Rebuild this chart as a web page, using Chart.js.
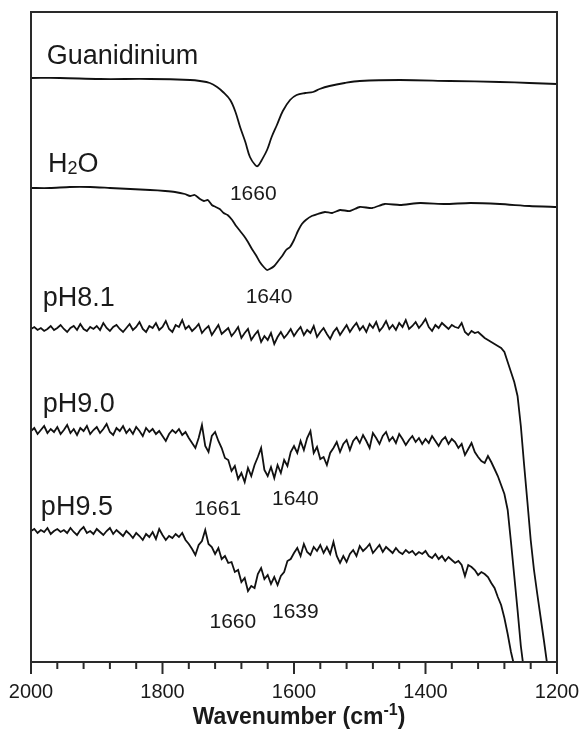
<!DOCTYPE html>
<html>
<head>
<meta charset="utf-8">
<script src="https://cdn.jsdelivr.net/npm/chart.js@4"></script>
<style>
  html, body { margin: 0; padding: 0; background: #fff; }
  #wrap { width: 581px; height: 733px; position: relative; }
</style>
</head>
<body>
<div id="wrap"><canvas id="irChart"></canvas></div>
<script>
// IR difference spectra, offset vertically (arbitrary units)

const tickLabels = [2000, 1800, 1600, 1400, 1200];

// Guanidinium reference spectrum
const guanWn  = [2000, 1956, 1895, 1819, 1758, 1743, 1728, 1717, 1708, 1697, 1689, 1682, 1674, 1667, 1659, 1655, 1649, 1641, 1634, 1626, 1617, 1606, 1596, 1583, 1571, 1561, 1546, 1523, 1500, 1439, 1363, 1287, 1242, 1200];
const guanAbs = [584, 584, 583, 583, 582, 581, 579, 575, 570, 562, 550, 535, 520, 505, 497, 496, 502, 512, 525, 537, 551, 562, 567, 569, 570, 573, 576, 579, 581, 582, 581, 580, 579, 578];

// H2O bending band
const waterWn  = [2000, 1971, 1941, 1910, 1880, 1849, 1819, 1796, 1781, 1766, 1758, 1751, 1743, 1737, 1731, 1725, 1719, 1713, 1707, 1701, 1694, 1688, 1682, 1676, 1670, 1664, 1658, 1652, 1646, 1641, 1637, 1630, 1624, 1618, 1612, 1606, 1600, 1594, 1588, 1582, 1573, 1564, 1553, 1542, 1530, 1515, 1500, 1481, 1462, 1439, 1408, 1370, 1332, 1287, 1242, 1200];
const waterAbs = [474, 474, 475, 475, 474, 473, 472, 471, 470, 468, 466, 467, 463, 461, 462, 457, 455, 453, 449, 447, 442, 436, 431, 426, 420, 413, 407, 400, 395, 392, 393, 396, 401, 406, 412, 415, 422, 431, 438, 442, 446, 448, 450, 449, 452, 451, 455, 454, 458, 457, 459, 458, 459, 458, 456, 455];

// common wavenumber grid of the pH series
const wnGrid = [
  2000,1995,1990,1985,1980,1975,1970,1965,1960,1955,
  1950,1945,1940,1935,1930,1925,1920,1915,1910,1905,
  1900,1895,1890,1885,1880,1875,1870,1865,1860,1855,
  1850,1845,1840,1835,1830,1825,1820,1815,1810,1805,
  1800,1795,1790,1785,1780,1775,1770,1765,1760,1755,
  1750,1745,1740,1735,1730,1725,1720,1715,1710,1705,
  1700,1695,1690,1685,1680,1675,1670,1665,1660,1655,
  1650,1645,1640,1635,1630,1625,1620,1615,1610,1605,
  1600,1595,1590,1585,1580,1575,1570,1565,1560,1555,
  1550,1545,1540,1535,1530,1525,1520,1515,1510,1505,
  1500,1495,1490,1485,1480,1475,1470,1465,1460,1455,
  1450,1445,1440,1435,1430,1425,1420,1415,1410,1405,
  1400,1395,1390,1385,1380,1375,1370,1365,1360,1355,
  1350,1345,1340,1335,1330,1325,1320,1315,1310,1305,
  1300,1295,1290,1285,1280,1275,1270,1265,1260,1255,
  1250,1245,1240,1235,1230,1225,1220,1215,1210,1205,
  1200
];

const ph81 = [
  333,335,332,334,331,333,336,332,334,337,
  333,330,334,336,332,338,333,331,335,333,
  336,332,339,334,331,335,337,333,330,334,
  338,332,335,340,333,330,336,334,339,332,
  335,341,333,330,337,335,342,333,336,331,
  334,338,329,333,336,327,332,337,328,331,
  334,326,330,335,324,329,333,322,327,331,
  320,326,322,329,318,325,330,324,328,333,
  326,331,335,327,332,329,336,325,330,334,
  328,323,330,334,327,332,337,330,335,339,
  332,336,330,338,334,340,331,335,341,333,
  337,332,339,335,342,333,336,340,334,338,
  343,335,331,337,334,339,336,333,337,335,
  334,339,330,327,331,329,330,327,324,322,
  320,318,316,314,310,300,290,280,266,236,
  197,160,122,92,68,45,22,-2
];

const ph90 = [
  231,234,228,232,236,229,233,230,235,228,
  232,237,229,233,227,234,231,236,228,232,
  235,229,233,238,230,227,234,231,236,229,
  233,228,235,231,226,234,230,233,228,231,
  226,221,228,232,229,233,227,230,224,219,
  214,224,237,216,210,226,230,221,214,204,
  202,191,196,183,189,180,194,186,197,205,
  214,192,186,195,184,197,189,202,196,210,
  216,209,221,212,224,231,209,215,203,205,
  197,209,214,220,210,218,222,212,221,225,
  219,227,221,214,229,224,218,226,230,221,
  225,219,228,223,217,222,226,220,224,218,
  223,219,226,221,216,222,225,218,223,220,
  214,218,207,213,219,210,205,201,199,206,
  200,193,186,177,168,152,120,86,52,16,
  -10
];

const ph95 = [
  131,133,129,132,130,134,128,131,133,130,
  132,129,134,130,127,132,135,129,131,128,
  133,130,127,131,134,128,132,129,126,131,
  128,124,129,126,122,128,125,130,123,133,
  127,122,126,124,128,125,129,122,118,113,
  107,117,121,132,118,115,108,114,103,106,
  99,100,90,92,80,84,71,76,74,88,
  94,83,87,78,85,77,86,90,101,103,
  109,114,106,118,110,107,115,111,117,109,
  115,108,120,106,99,106,100,108,112,106,
  116,111,114,118,109,113,117,110,115,112,
  109,114,110,108,112,109,111,107,110,108,
  111,106,104,108,103,106,101,105,102,99,
  101,97,86,97,95,92,87,90,88,85,
  79,74,65,57,44,28,10,-4
];

// text labels inside the plot: [segments, wavenumber, value, align, size]
const notes = [
  [[['Guanidinium']], 1976, 598, 'left', 27],
  [[['H'], ['2', 'sub'], ['O']], 1974, 490, 'left', 27],
  [[['1660']], 1662, 462, 'center', 21],
  [[['1640']], 1638, 359, 'center', 21],
  [[['pH8.1']], 1982, 356, 'left', 27],
  [[['pH9.0']], 1982, 250, 'left', 27],
  [[['pH9.5']], 1985, 147, 'left', 27],
  [[['1661']], 1716, 147, 'center', 21],
  [[['1640']], 1598, 157, 'center', 21],
  [[['1660']], 1693, 34, 'center', 21],
  [[['1639']], 1598, 44, 'center', 21]
];

const FONT = '"Liberation Sans", Arial, sans-serif';

function toPoints(xs, ys) {
  return ys.map((v, i) => ({ x: xs[i], y: v }));
}

function drawSegments(ctx, segs, x, y, align, size, weight) {
  const w = weight || 'normal';
  const fontFor = s => (s[1] ? `${w} ${Math.round(size * 0.68)}px ${FONT}` : `${w} ${size}px ${FONT}`);
  let total = 0;
  segs.forEach(s => { ctx.font = fontFor(s); total += ctx.measureText(s[0]).width; });
  let cx = align === 'center' ? x - total / 2 : x;
  ctx.textAlign = 'left';
  ctx.textBaseline = 'alphabetic';
  segs.forEach(s => {
    ctx.font = fontFor(s);
    let dy = 0;
    if (s[1] === 'sub') dy = size * 0.08;
    if (s[1] === 'sup') dy = -size * 0.38;
    ctx.fillText(s[0], cx, y + dy);
    cx += ctx.measureText(s[0]).width;
  });
}

const decor = {
  id: 'decor',
  afterDatasetsDraw(chart) {
    const { ctx, chartArea: a, scales: { x, y } } = chart;
    ctx.save();
    ctx.strokeStyle = '#2a2a2a';
    ctx.lineWidth = 2;
    ctx.strokeRect(a.left, a.top, a.right - a.left, a.bottom - a.top);

    // major / minor tick marks pointing out of the frame
    x.ticks.forEach(t => {
      const px = x.getPixelForValue(t.value);
      const len = tickLabels.includes(t.value) ? 12 : 7;
      ctx.beginPath();
      ctx.moveTo(px, a.bottom);
      ctx.lineTo(px, a.bottom + len);
      ctx.stroke();
    });

    ctx.fillStyle = '#1a1a1a';
    notes.forEach(n => {
      drawSegments(ctx, n[0], x.getPixelForValue(n[1]), y.getPixelForValue(n[2]), n[3], n[4]);
    });

    // axis title
    drawSegments(ctx, [['Wavenumber (cm'], ['-1', 'sup'], [')']],
      (a.left + a.right) / 2 + 5, 724, 'center', 23, 'bold');
    ctx.restore();
  }
};

const lineStyle = { borderColor: '#111', borderWidth: 1.8, pointRadius: 0, fill: false };

new Chart(document.getElementById('irChart').getContext('2d'), {
  type: 'line',
  data: {
    datasets: [
      { ...lineStyle, label: 'Guanidinium', data: toPoints(guanWn, guanAbs), tension: 0.35 },
      { ...lineStyle, label: 'H2O', data: toPoints(waterWn, waterAbs), tension: 0.2 },
      { ...lineStyle, label: 'pH8.1', data: toPoints(wnGrid, ph81), tension: 0 },
      { ...lineStyle, label: 'pH9.0', data: toPoints(wnGrid, ph90), tension: 0 },
      { ...lineStyle, label: 'pH9.5', data: toPoints(wnGrid, ph95), tension: 0 }
    ]
  },
  options: {
    responsive: true,
    maintainAspectRatio: false,
    animation: false,
    layout: { padding: { left: 31, right: 24, top: 12, bottom: 0 } },
    plugins: { legend: { display: false }, tooltip: { enabled: false } },
    scales: {
      x: {
        type: 'linear',
        reverse: true,
        min: 1200,
        max: 2000,
        grid: { display: false, drawTicks: false },
        border: { display: false },
        ticks: {
          stepSize: 40,
          autoSkip: false,
          maxRotation: 0,
          padding: 18,
          color: '#1a1a1a',
          font: { family: FONT, size: 20 },
          callback: v => (tickLabels.includes(v) ? String(v) : '')
        },
        afterFit: s => {
          s.height = 71;
          s.paddingLeft = 0;
          s.paddingRight = 0;
        }
      },
      y: { display: false, min: 0, max: 650 }
    }
  },
  plugins: [decor]
});
</script>
</body>
</html>
